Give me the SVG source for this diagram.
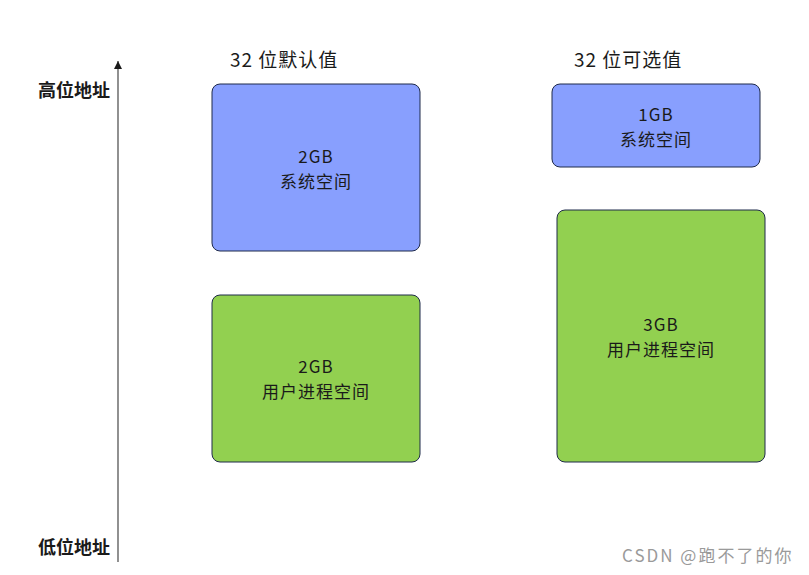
<svg xmlns="http://www.w3.org/2000/svg" width="809" height="575" viewBox="0 0 809 575">
<style>
text{font-family:"Noto Sans CJK SC","Noto Sans",sans-serif;fill:#1a1a1a}
.box{stroke:#1f2a4a;stroke-width:1}
.sys{fill:#889ffe}
.usr{fill:#92d050}
.lbl{font-size:17px;text-anchor:middle;letter-spacing:1px}
.hdr{font-size:19px;letter-spacing:1px}
.ax{font-size:18px;font-weight:bold;text-anchor:end}
</style>
<defs>
<marker id="ah" markerWidth="10" markerHeight="10" refX="8" refY="4" orient="auto" markerUnits="userSpaceOnUse">
<path d="M0,0 L8,4 L0,8 Z" fill="#1a1a1a"/>
</marker>
</defs>
<rect width="809" height="575" fill="#fff"/>
<g id="connectors">
<line x1="118" y1="562" x2="118" y2="61" stroke="#555" stroke-width="1.3" marker-end="url(#ah)"/>
</g>
<g id="axis-labels">
<text class="ax" x="110" y="97">高位地址</text>
<text class="ax" x="110" y="554">低位地址</text>
</g>
<g id="headers">
<text class="hdr" x="230" y="67">32 位默认值</text>
<text class="hdr" x="574" y="67">32 位可选值</text>
</g>
<g id="default-sys">
<rect class="box sys" x="212" y="84" width="208" height="167" rx="8"/>
<text class="lbl" x="316" y="163">2GB</text>
<text class="lbl" x="316" y="188">系统空间</text>
</g>
<g id="default-user">
<rect class="box usr" x="212" y="295" width="208" height="167" rx="8"/>
<text class="lbl" x="316" y="373">2GB</text>
<text class="lbl" x="316" y="398">用户进程空间</text>
</g>
<g id="optional-sys">
<rect class="box sys" x="552" y="84" width="208" height="83" rx="8"/>
<text class="lbl" x="656" y="121">1GB</text>
<text class="lbl" x="656" y="146">系统空间</text>
</g>
<g id="optional-user">
<rect class="box usr" x="557" y="210" width="208" height="252" rx="8"/>
<text class="lbl" x="661" y="331">3GB</text>
<text class="lbl" x="661" y="356">用户进程空间</text>
</g>
<g id="watermark">
<text x="622" y="562" style="font-size:17px;fill:#9a9a9a;letter-spacing:2px">CSDN @跑不了的你</text>
</g>
</svg>
